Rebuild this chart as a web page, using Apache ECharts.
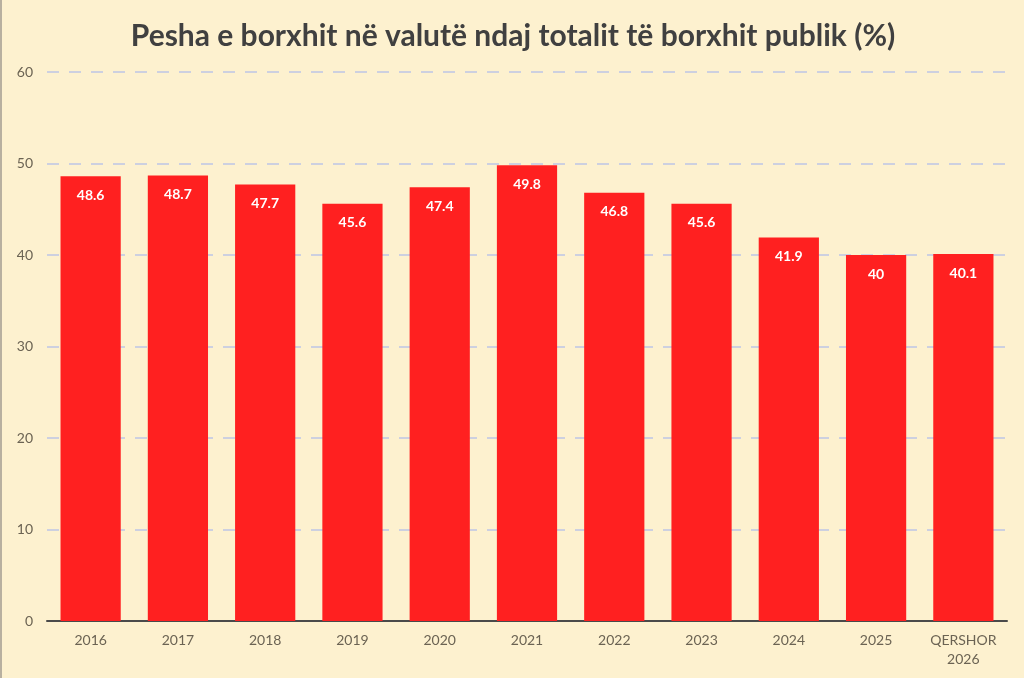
<!DOCTYPE html>
<html style="height: 100%">
<head>
    <meta charset="utf-8">
    <script src="https://cdn.jsdelivr.net/npm/echarts@6/dist/echarts.min.js"></script>
    <title>Pesha e borxhit</title>
</head>
<body style="height: 100%; margin: 0; background: #fdf1cf">
<div id="container" style="width: 1024px; height: 678px; box-sizing: border-box; border-left: 2px solid #b8b0a0"></div>
<script type="text/javascript">
let categories = ['2016', '2017', '2018', '2019', '2020', '2021', '2022', '2023', '2024', '2025', 'QERSHOR\n2026']
let values = [48.6, 48.7, 47.7, 45.6, 47.4, 49.8, 46.8, 45.6, 41.9, 40, 40.1]

let chart = echarts.init(document.getElementById('container'))
chart.setOption({
    backgroundColor: '#fdf1cf',
    textStyle: { fontFamily: 'Lato' },
    title: {
        text: 'Pesha e borxhit në valutë ndaj totalit të borxhit publik (%)',
        left: 'center',
        top: 16,
        textStyle: { fontSize: 30, fontWeight: 'bold', color: '#404040', fontFamily: 'Lato' }
    },
    grid: { left: 45, right: 17, top: 72, bottom: 57 },
    xAxis: {
        type: 'category',
        data: categories,
        axisTick: { show: false },
        axisLine: { lineStyle: { color: '#4a4a4a', width: 2 } },
        axisLabel: { color: '#6b6353', fontSize: 14, margin: 10, lineHeight: 19 }
    },
    yAxis: {
        type: 'value',
        min: 0,
        max: 60,
        interval: 10,
        axisLabel: { color: '#6b6353', fontSize: 14, margin: 14 },
        splitLine: { lineStyle: { color: '#cdd0e0', type: [12, 10], width: 2 } }
    },
    series: [{
        type: 'bar',
        data: values,
        barCategoryGap: '31%',
        itemStyle: { color: '#ff2020' },
        label: {
            show: true,
            position: 'insideTop',
            distance: 12,
            color: '#ffffff',
            fontWeight: 'bold',
            fontSize: 14
        }
    }]
})
</script>
</body>
</html>
